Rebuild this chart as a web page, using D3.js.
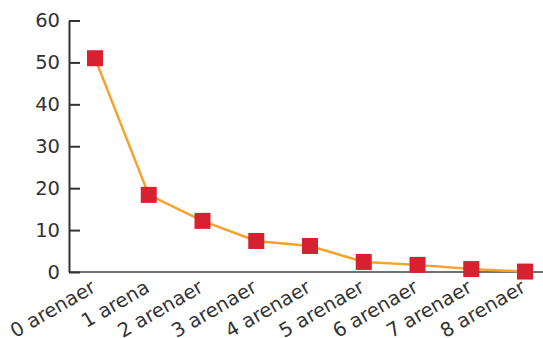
<!DOCTYPE html>
<html><head><meta charset="utf-8">
<script src="https://cdn.jsdelivr.net/npm/d3@7"></script>
<style>html,body{margin:0;padding:0;background:#fff;}svg{display:block;}</style>
</head><body>
<script>
const categories = ["0 arenaer","1 arena","2 arenaer","3 arenaer","4 arenaer","5 arenaer","6 arenaer","7 arenaer","8 arenaer"];
const values = [51, 18.4, 12.2, 7.4, 6.2, 2.4, 1.7, 0.7, 0.1];
const yTicks = [0,10,20,30,40,50,60];

const W = 543, H = 338;
const svg = d3.select("body").append("svg").attr("width", W).attr("height", H);
const font = "'DejaVu Sans', Verdana, sans-serif";

const x = d3.scalePoint().domain(categories).range([95, 525]);
const y = d3.scaleLinear().domain([0, 60]).range([272, 20.5]);

// x axis line
svg.append("line").attr("x1", 69).attr("x2", W).attr("y1", y(0)).attr("y2", y(0))
  .attr("stroke", "#707070").attr("stroke-width", 2);

// y axis
const yAxis = d3.axisLeft(y).tickValues(yTicks).tickSizeInner(-11).tickSizeOuter(0).tickPadding(9);
const gy = svg.append("g").attr("transform", "translate(69,0)").call(yAxis);
gy.select(".domain").attr("stroke", "#333").attr("stroke-width", 2);
gy.selectAll(".tick line").attr("stroke", "#333").attr("stroke-width", 2);
gy.selectAll(".tick text").attr("fill", "#333").style("font-family", font).style("font-size", "19.5px");

// x labels
svg.append("g").selectAll("text").data(categories).join("text")
  .attr("transform", d => `translate(${x(d)+2},291) rotate(-30)`)
  .attr("text-anchor", "end")
  .attr("fill", "#333")
  .style("font-family", font).style("font-size", "19.5px")
  .text(d => d);

// line
const line = d3.line().x((d,i) => x(categories[i])).y(d => y(d));
svg.append("path").datum(values).attr("d", line)
  .attr("fill", "none").attr("stroke", "#F6A22E").attr("stroke-width", 2.5);

// markers
svg.append("g").selectAll("rect").data(values).join("rect")
  .attr("x", (d,i) => x(categories[i]) - 8)
  .attr("y", d => y(d) - 8)
  .attr("width", 16).attr("height", 16)
  .attr("fill", "#D82130");
</script>
</body></html>
